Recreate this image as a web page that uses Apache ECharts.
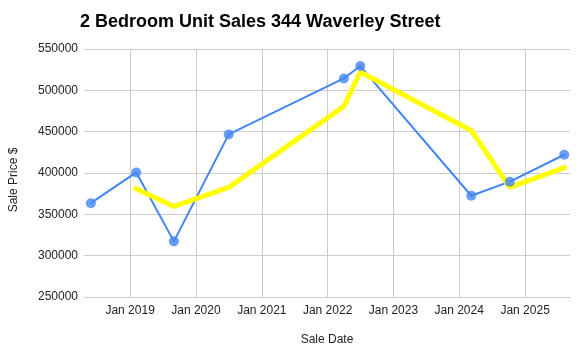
<!DOCTYPE html>
<html><head><meta charset="utf-8">
<script src="https://cdn.jsdelivr.net/npm/echarts@6/dist/echarts.min.js"></script>
<style>html,body{margin:0;padding:0;background:#fff}#c{width:584px;height:362px}</style>
</head><body><div id="c"></div>
<script>
const saleDates = ['2018-05-28','2019-02-04','2019-09-01','2020-07-01','2022-04-01','2022-07-01','2024-03-08','2024-10-08','2025-08-06'];
const salePrices = [363500, 400700, 317300, 446700, 514400, 529400, 372500, 389500, 422100];
const avgDates = ['2019-02-04','2019-09-01','2020-07-01','2022-04-01','2022-07-01','2024-03-08','2024-10-08','2025-08-06'];
const avgPrices = [381000, 359600, 382600, 480600, 522200, 451500, 382600, 406400];
const yTicks = [250000, 300000, 350000, 400000, 450000, 500000, 550000];
const xMin = '2018-04-20', xMax = '2025-09-07';

const font = '"Liberation Sans", Arial, sans-serif';
const chart = echarts.init(document.getElementById('c'), null, {renderer:'canvas'});
const blue = saleDates.map((d,i)=>[d, salePrices[i]]);
const yellow = avgDates.map((d,i)=>[d, avgPrices[i]]);
const YEAR = 365.25*24*3600*1000;
chart.setOption({
  animation:false,
  title:{text:'2 Bedroom Unit Sales 344 Waverley Street', left:75, top:8,
    textStyle:{fontFamily:font, fontSize:18, fontWeight:'bold', color:'#000'}},
  grid:{left:84, right:14, top:49, bottom:65, containLabel:false, outerBoundsMode:'none'},
  xAxis:{type:'time', min:xMin, max:xMax, minInterval:YEAR*0.99, maxInterval:YEAR*1.01,
    name:'Sale Date', nameLocation:'middle', nameGap:37,
    nameTextStyle:{fontFamily:font, fontSize:12, color:'#222'},
    axisLine:{show:true, lineStyle:{color:'#ccc'}}, axisTick:{show:false},
    splitLine:{show:true, showMinLine:false, showMaxLine:false, lineStyle:{color:'#ccc', width:1}},
    axisLabel:{fontFamily:font, fontSize:12, color:'#222', margin:8, showMinLabel:false, showMaxLabel:false,
      formatter:function(v){const d=new Date(v); return 'Jan ' + d.getFullYear();}}
  },
  yAxis:{type:'value', min:yTicks[0], max:yTicks[yTicks.length-1], interval:50000,
    name:'Sale Price $', nameLocation:'middle', nameGap:64, nameRotate:90,
    nameTextStyle:{fontFamily:font, fontSize:12, color:'#222', padding:[0,14,0,0]},
    axisLine:{show:false}, axisTick:{show:false},
    splitLine:{lineStyle:{color:'#ccc', width:1}},
    axisLabel:{fontFamily:font, fontSize:12, color:'#222', margin:6,
      formatter:function(v){return String(v);}}
  },
  series:[
    {type:'line', data:blue, showSymbol:false, symbol:'none', z:1,
      lineStyle:{color:'#4285f4', width:2}},
    {type:'line', data:yellow, showSymbol:false, symbol:'none', z:2,
      lineStyle:{color:'#ffff00', width:5, cap:'square'}},
    {type:'scatter', data:blue, symbol:'circle', symbolSize:10, z:3,
      itemStyle:{color:'#4285f4'}}
  ]
});
</script></body></html>
